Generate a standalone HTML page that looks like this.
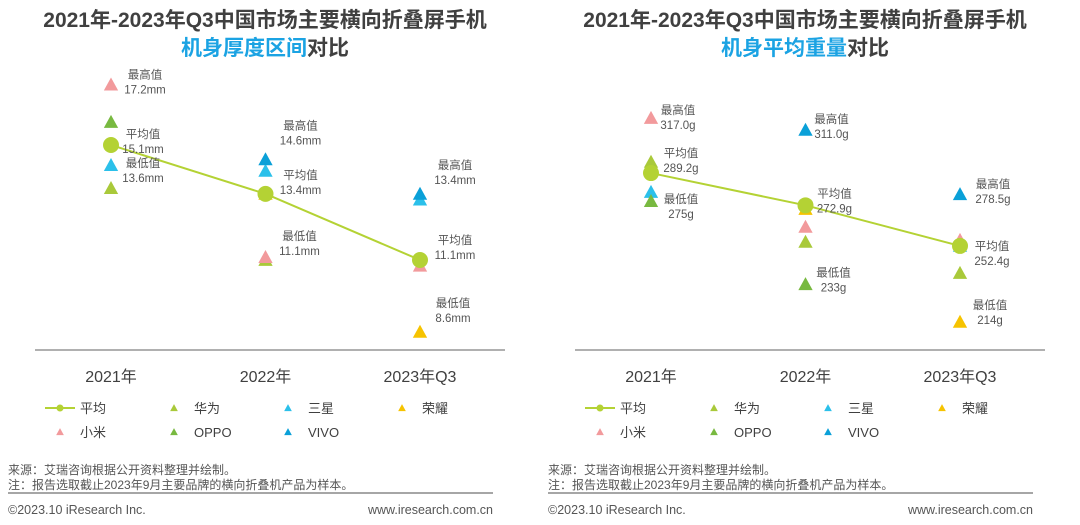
<!DOCTYPE html>
<html><head><meta charset="utf-8">
<style>
body{margin:0;background:#fff;width:1080px;height:525px;overflow:hidden;font-family:"Liberation Sans","Noto Sans CJK SC",sans-serif;}
svg{position:absolute;left:0;top:0}
</style></head>
<body>
<svg id="s" width="1080" height="525" font-family="Liberation Sans, Noto Sans CJK SC, sans-serif"></svg>
<script>
const categories=["2021年","2022年","2023年Q3"];
const brands=["华为","三星","荣耀","小米","OPPO","VIVO"];
const brandColors=["#a9c93a","#2bc0ea","#f6c300","#f29a9c","#78b940","#0aa0d8"];
// thickness (mm)
const thickAvg=[15.1,13.4,11.1];
const thickHuawei=[13.6,11.1,null];
const thickSamsung=[14.4,14.2,13.2];
const thickHonor=[null,13.4,8.6];
const thickXiaomi=[17.2,11.2,10.9];
const thickOppo=[15.9,null,null];
const thickVivo=[null,14.6,13.4];
// weight (g)
const weightAvg=[289.2,272.9,252.4];
const weightHuawei=[294.8,254.4,238.7];
const weightSamsung=[279.6,null,252.4];
const weightHonor=[null,271,214];
const weightXiaomi=[317.0,262,255.4];
const weightOppo=[275,233,null];
const weightVivo=[null,311.0,278.5];

const NS="http://www.w3.org/2000/svg";
const svg=document.getElementById('s');
function mk(tag,attrs,parent){const e=document.createElementNS(NS,tag);for(const k in attrs)e.setAttribute(k,attrs[k]);(parent||svg).appendChild(e);return e;}
function txt(x,y,s,size,fill,anchor,weight,parent){const t=mk('text',{x:x,y:y,'font-size':size,fill:fill,'text-anchor':anchor||'start','font-weight':weight||'normal'},parent);t.textContent=s;return t;}
function tri(x,y,c,s,parent){return mk('polygon',{points:`${x},${y-s*0.55} ${x-s*0.55},${y+s*0.45} ${x+s*0.55},${y+s*0.45}`,fill:c},parent);}

function drawChart(ox,t2blue,series,avg,yfn,labels){
  const g=mk('g',{});
  
  
  const cx=ox+265;
  const t1=txt(cx,27,"2021年-2023年Q3中国市场主要横向折叠屏手机",21,"#404040","middle","bold",g);
  
  
  const t2=mk('text',{x:cx,y:55,'font-size':21,'text-anchor':'middle','font-weight':'bold'},g);
  
  
  const a=mk('tspan',{fill:"#1ba3e3"},t2);a.textContent=t2blue;
  const b=mk('tspan',{fill:"#404040"},t2);b.textContent="对比";
  const xs=categories.map((c,i)=>ox+111+i*154.5);
  const ax=mk('line',{x1:ox+35,y1:350,x2:ox+505,y2:350,stroke:"#b0b0b0",'stroke-width':2},g);
  
  
  categories.forEach((c,i)=>{const t=txt(xs[i],382,c,16,"#404040","middle",null,g);
    
    });
  series.forEach((arr,bi)=>{arr.forEach((v,i)=>{if(v==null)return;
    const p=tri(xs[i],yfn(v),brandColors[bi],13,g);
    
    });});
  const pl=mk('polyline',{points:avg.map((v,i)=>xs[i]+','+yfn(v)).join(' '),fill:'none',stroke:'#b4d234','stroke-width':2},g);
  
  
  avg.forEach((v,i)=>{const c=mk('circle',{cx:xs[i],cy:yfn(v),r:8,fill:'#b4d234'},g);
    
    });
  labels.forEach(l=>{const x=xs[l[0]]+l[3],y=yfn(l[1])+l[4];
    const t1=txt(x,y,l[2],11.5,"#555","middle",null,g);
    
    
    const t2=txt(x,y+15,l[5],11.5,"#555","middle",null,g);
    
    });
  // legend
  const lg=mk('g',{},g);
  
  
  mk('line',{x1:ox+45,y1:408,x2:ox+75,y2:408,stroke:'#b4d234','stroke-width':2},lg);
  mk('circle',{cx:ox+60,cy:408,r:3.5,fill:'#b4d234'},lg);
  txt(ox+80,413,"平均",13,"#404040","start",null,lg);
  const pos=[[1,0],[2,0],[3,0],[0,1],[1,1],[2,1]];
  brands.forEach((bn,bi)=>{const col=pos[bi][0],row=pos[bi][1];
    const x=ox+60+col*114,y=408+row*24;
    tri(x,y,brandColors[bi],7,lg);
    txt(x+20,y+5,bn,13,"#404040","start",null,lg);});
  // footer
  const f=mk('g',{},g);
  
  
  txt(ox+8,474,"来源：艾瑞咨询根据公开资料整理并绘制。",12,"#555","start",null,f);
  txt(ox+8,489,"注：报告选取截止2023年9月主要品牌的横向折叠机产品为样本。",12,"#555","start",null,f);
  mk('line',{x1:ox+8,y1:493,x2:ox+493,y2:493,stroke:'#888','stroke-width':1.5},f);
  txt(ox+8,514,"©2023.10 iResearch Inc.",12.5,"#555","start",null,f);
  txt(ox+493,514,"www.iresearch.com.cn",12.5,"#555","end",null,f);
}
const yT=v=>145-(v-15.1)*28.75;
const yW=v=>118+(317-v)*1.98;
drawChart(0,"机身厚度区间",[thickHuawei,thickSamsung,thickHonor,thickXiaomi,thickOppo,thickVivo],thickAvg,yT,[
 [0,17.2,"最高值",34,-6,"17.2mm"],[0,15.1,"平均值",32,-7,"15.1mm"],[0,13.6,"最低值",32,-21,"13.6mm"],
 [1,14.6,"最高值",35,-30,"14.6mm"],[1,13.4,"平均值",35,-15,"13.4mm"],[1,11.1,"最低值",34,-20,"11.1mm"],
 [2,13.4,"最高值",35,-25,"13.4mm"],[2,11.1,"平均值",35,-16,"11.1mm"],[2,8.6,"最低值",33,-25,"8.6mm"]]);
drawChart(540,"机身平均重量",[weightHuawei,weightSamsung,weightHonor,weightXiaomi,weightOppo,weightVivo],weightAvg,yW,[
 [0,317.0,"最高值",27,-4,"317.0g"],[0,289.2,"平均值",30,-16,"289.2g"],[0,275,"最低值",30,2,"275g"],
 [1,311.0,"最高值",26,-7,"311.0g"],[1,272.9,"平均值",29,-8,"272.9g"],[1,233,"最低值",28,-8,"233g"],
 [2,278.5,"最高值",33,-6,"278.5g"],[2,252.4,"平均值",32,4,"252.4g"],[2,214,"最低值",30,-13,"214g"]]);
</script>
</body></html>
